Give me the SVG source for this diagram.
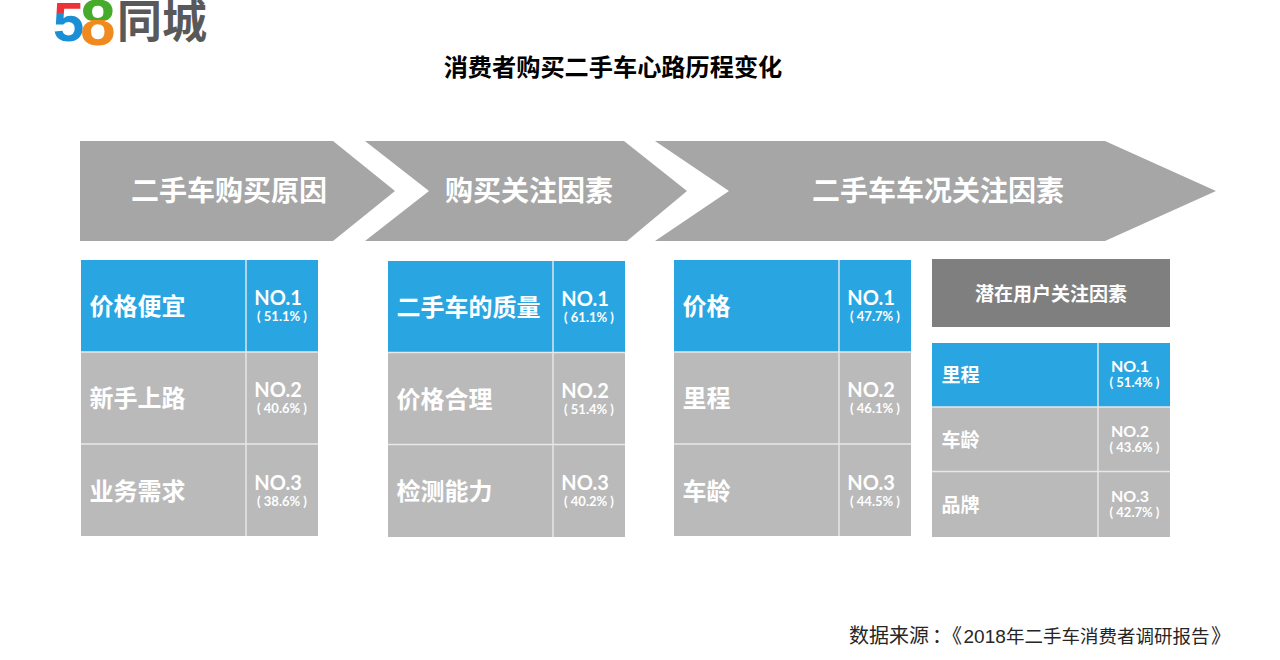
<svg xmlns="http://www.w3.org/2000/svg" width="1280" height="660" viewBox="0 0 1280 660">
<style>
text{font-family:"Noto Sans CJK SC","Liberation Sans",sans-serif}
.chev{fill:#a6a6a6}
.hd{fill:#fff;font-size:28px;font-weight:700;text-anchor:middle}
.blue{fill:#29a6e1}.grey{fill:#bababa}
.sep{stroke:#e8e8e8;stroke-width:1.4;fill:none}
.lb{fill:#fff;font-size:24px;font-weight:700}
.lbs{fill:#fff;font-size:19px;font-weight:700}
.no,.pc,.nos{fill:#fff;font-family:Lato,"Open Sans",sans-serif;font-weight:700;text-anchor:middle}
.no{font-size:20px}.pc{font-size:13px}
.nos{font-size:16px}
.logo-d{font-family:"Liberation Sans",sans-serif;font-weight:700}
.src{font-size:18.500px;fill:#262626}
.halt{font-feature-settings:"halt" 1}
</style>
<defs>
<linearGradient id="g5" x1="0" y1="0" x2="0" y2="1"><stop offset=".36" stop-color="#ee3338"/><stop offset=".36" stop-color="#1a8fd6"/></linearGradient>
<linearGradient id="g8" x1="0" y1="0" x2="0" y2="1"><stop offset=".46" stop-color="#45ab2b"/><stop offset=".46" stop-color="#f08a1e"/></linearGradient>
</defs>
<rect width="1280" height="660" fill="#fff"/>
<g id="logo">
<text class="logo-d" x="53" y="41" font-size="56" fill="url(#g5)">5</text>
<text class="logo-d" x="80" y="45" font-size="64" fill="url(#g8)">8</text>
<text x="117" y="38" font-size="45" font-weight="700" fill="#595959">同城</text>
</g>
<text id="title" x="613" y="76" font-size="24.200" font-weight="700" text-anchor="middle" fill="#000">消费者购买二手车心路历程变化</text>
<g id="chevron-1"><path class="chev" d="M80 141H333L395 191L333 241H80Z"/><text class="hd" x="229" y="201">二手车购买原因</text></g>
<g id="chevron-2"><path class="chev" d="M365 141H624L687 191L627 241H365L429 191Z"/><text class="hd" x="529" y="201">购买关注因素</text></g>
<g id="chevron-3"><path class="chev" d="M655 141H1105L1216 191L1105 241H655L729 191Z"/><text class="hd" x="938" y="201">二手车车况关注因素</text></g>
<g id="table-1">
<rect class="blue" x="81" y="260" width="237" height="92"/><rect class="grey" x="81" y="352" width="237" height="184"/>
<path class="sep" d="M81 352H318M81 444H318M246 260V536"/>
<text class="lb" x="89.500" y="315">价格便宜</text><text class="no" x="278" y="305">NO.1</text><text class="pc" x="282" y="321">( 51.1% )</text>
<text class="lb" x="89.500" y="407">新手上路</text><text class="no" x="278" y="397">NO.2</text><text class="pc" x="282" y="413">( 40.6% )</text>
<text class="lb" x="89.500" y="500">业务需求</text><text class="no" x="278" y="490">NO.3</text><text class="pc" x="282" y="506">( 38.6% )</text>
</g>
<g id="table-2">
<rect class="blue" x="388" y="261" width="237" height="92"/><rect class="grey" x="388" y="353" width="237" height="184"/>
<path class="sep" d="M388 352.500H625M388 444.500H625M553 261V537"/>
<text class="lb" x="396.500" y="316">二手车的质量</text><text class="no" x="585" y="306">NO.1</text><text class="pc" x="589" y="322">( 61.1% )</text>
<text class="lb" x="396.500" y="408">价格合理</text><text class="no" x="585" y="398">NO.2</text><text class="pc" x="589" y="414">( 51.4% )</text>
<text class="lb" x="396.500" y="500">检测能力</text><text class="no" x="585" y="490">NO.3</text><text class="pc" x="589" y="506">( 40.2% )</text>
</g>
<g id="table-3">
<rect class="blue" x="674" y="260" width="237" height="92"/><rect class="grey" x="674" y="352" width="237" height="184"/>
<path class="sep" d="M674 352H911M674 444H911M839 260V536"/>
<text class="lb" x="682.500" y="315">价格</text><text class="no" x="871" y="305">NO.1</text><text class="pc" x="875" y="321">( 47.7% )</text>
<text class="lb" x="682.500" y="407">里程</text><text class="no" x="871" y="397">NO.2</text><text class="pc" x="875" y="413">( 46.1% )</text>
<text class="lb" x="682.500" y="500">车龄</text><text class="no" x="871" y="490">NO.3</text><text class="pc" x="875" y="506">( 44.5% )</text>
</g>
<g id="header-4"><rect x="932" y="259" width="238" height="68" fill="#7f7f7f"/><text x="1051" y="301" font-size="19" font-weight="700" fill="#fff" text-anchor="middle">潜在用户关注因素</text></g>
<g id="table-4">
<rect class="blue" x="932" y="343" width="238" height="64"/><rect class="grey" x="932" y="407" width="238" height="130"/>
<path class="sep" d="M932 407H1170M932 471.500H1170M1098 343V537"/>
<text class="lbs" x="941.500" y="382">里程</text><text class="nos" x="1130" y="372">NO.1</text><text class="pc" x="1134.500" y="387">( 51.4% )</text>
<text class="lbs" x="941.500" y="447">车龄</text><text class="nos" x="1130" y="437">NO.2</text><text class="pc" x="1134.500" y="452">( 43.6% )</text>
<text class="lbs" x="941.500" y="512">品牌</text><text class="nos" x="1130" y="502">NO.3</text><text class="pc" x="1134.500" y="517">( 42.7% )</text>
</g>
<text id="source" class="src" y="643"><tspan x="849" font-size="20">数据来源</tspan><tspan class="halt" x="932" font-size="20">：</tspan><tspan class="halt" x="952" font-size="20">《</tspan><tspan x="963.500" style="font-family:'Liberation Sans',sans-serif" font-size="19">2018</tspan><tspan x="1006">年二手车消费者调研报告</tspan><tspan class="halt" x="1211" font-size="20">》</tspan></text>
</svg>
